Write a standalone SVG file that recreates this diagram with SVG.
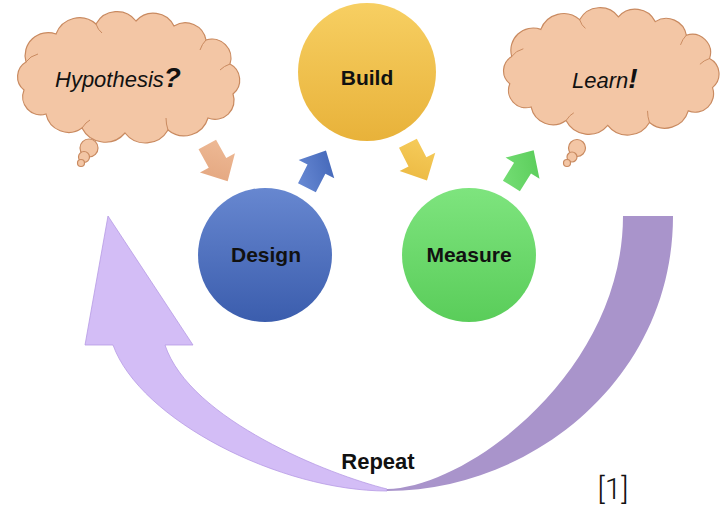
<svg xmlns="http://www.w3.org/2000/svg" width="721" height="506" viewBox="0 0 721 506">
<defs>
<style>
.lbl{font-family:"Liberation Sans",Arial,sans-serif;font-weight:bold;font-size:21px;fill:#111;text-anchor:middle}
.thought{font-family:"Liberation Sans",Arial,sans-serif;font-style:italic;font-size:22px;fill:#111}
.mark{font-weight:bold;font-size:28px}
.cloud{fill:#f3c6a5;stroke:#c98a60;stroke-width:1.2}
.fold{fill:none;stroke:#c98a60;stroke-width:1}
.ref{font-family:Roboto,"Liberation Sans",Arial,sans-serif;font-weight:300;font-size:30px;fill:#111;text-anchor:middle}
</style>
<linearGradient id="gBuild" x1="0" y1="0" x2="0" y2="1"><stop offset="0" stop-color="#f7cf62"/><stop offset="1" stop-color="#e8b23a"/></linearGradient>
<linearGradient id="gDesign" x1="0" y1="0" x2="0" y2="1"><stop offset="0" stop-color="#6787d0"/><stop offset="1" stop-color="#3b5dad"/></linearGradient>
<linearGradient id="gMeasure" x1="0" y1="0" x2="0" y2="1"><stop offset="0" stop-color="#7ee47e"/><stop offset="1" stop-color="#5acd5a"/></linearGradient>
<linearGradient id="gPeach" x1="0" y1="0" x2="1" y2="1"><stop offset="0" stop-color="#efbc98"/><stop offset="1" stop-color="#e2a37c"/></linearGradient>
<linearGradient id="gBlue" x1="0" y1="0" x2="1" y2="1"><stop offset="0" stop-color="#6e8fd8"/><stop offset="1" stop-color="#3c60b3"/></linearGradient>
<linearGradient id="gYellow" x1="0" y1="0" x2="1" y2="1"><stop offset="0" stop-color="#f7ce5e"/><stop offset="1" stop-color="#eab63e"/></linearGradient>
<linearGradient id="gGreen" x1="0" y1="0" x2="1" y2="1"><stop offset="0" stop-color="#78e078"/><stop offset="1" stop-color="#55c955"/></linearGradient>
<path id="cloudShape" d="M26,62 A23,23 0 0 1 56,34 A25,25 0 0 1 96,24 A24,24 0 0 1 136,21 A23,23 0 0 1 174,26 A21,21 0 0 1 206,40 A19,19 0 0 1 230,64 A18,18 0 0 1 233,94 A19,19 0 0 1 208,118 A25,25 0 0 1 168,130 A26,26 0 0 1 125,133 A26,26 0 0 1 82,128 A23,23 0 0 1 46,114 A18,18 0 0 1 24,90 A17,17 0 0 1 26,62 Z"/>
<path id="cloudFolds" d="M26,62 Q30,56 38,54 M96,24 Q98,30 102,33 M206,40 Q202,44 200,50 M230,64 Q224,66 220,70 M168,130 Q166,124 166,118 M82,128 Q86,122 90,120"/>
<path id="blockArrow" d="M-20,-10 L1,-10 L1,-20 L22,0 L1,20 L1,10 L-20,10 Z"/>
</defs>
<rect width="721" height="506" fill="#fff"/>

<g id="connectors">
  <g id="repeat-arrow">
    <path d="M387,491 C280,491 140,420 113,345 L85,345 L108,216 L193,345 L165,345 C190,420 330,475 387,489 Z" fill="#d3bdf6" stroke="#b69be4" stroke-width="0.8"/>
    <path d="M623,216 L673,216 C673,380 530,491 387,491 L387,489 C470,487 623,370 623,216 Z" fill="#a994cb"/>
  </g>
  <use href="#blockArrow" fill="url(#gPeach)" transform="translate(217,162) rotate(61)"/>
  <use href="#blockArrow" fill="url(#gBlue)" transform="translate(316,170) rotate(-63)"/>
  <use href="#blockArrow" fill="url(#gYellow)" transform="translate(417,161) rotate(63)"/>
  <use href="#blockArrow" fill="url(#gGreen)" transform="translate(522,169) rotate(-58)"/>
</g>

<g id="hypothesis">
  <use href="#cloudShape" class="cloud"/>
  <use href="#cloudFolds" class="fold"/>
  <circle cx="89" cy="148" r="9" class="cloud"/>
  <circle cx="84" cy="157" r="5.5" class="cloud"/>
  <circle cx="81" cy="163" r="3.5" class="cloud"/>
  <text x="55" y="87" class="thought">Hypothesis<tspan class="mark">?</tspan></text>
</g>

<g id="learn">
  <g transform="translate(486.5,-3.6) scale(0.97)">
    <use href="#cloudShape" class="cloud"/>
    <use href="#cloudFolds" class="fold"/>
  </g>
  <circle cx="577" cy="148" r="8.5" class="cloud"/>
  <circle cx="572" cy="157" r="5" class="cloud"/>
  <circle cx="567" cy="163" r="3.5" class="cloud"/>
  <text x="572" y="88" class="thought">Learn<tspan class="mark">!</tspan></text>
</g>

<g id="build">
  <circle cx="367" cy="72" r="69" fill="url(#gBuild)"/>
  <text x="367" y="85" class="lbl">Build</text>
</g>

<g id="design">
  <circle cx="265" cy="255" r="67" fill="url(#gDesign)"/>
  <text x="266" y="262" class="lbl">Design</text>
</g>

<g id="measure">
  <circle cx="469" cy="255" r="67" fill="url(#gMeasure)"/>
  <text x="469" y="262" class="lbl">Measure</text>
</g>

<text x="378" y="469" class="lbl" style="font-size:22px">Repeat</text>
<text x="613" y="499" class="ref">[1]</text>
</svg>
